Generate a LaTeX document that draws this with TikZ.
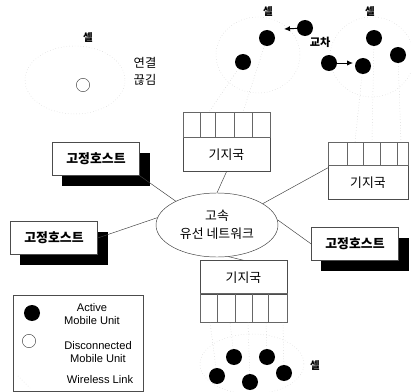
\documentclass[tikz,border=0pt]{standalone}
\usepackage{fontspec}
\setmainfont{Liberation Sans}
\newfontfamily\kr{Noto Sans CJK KR}
\usetikzlibrary{arrows.meta}
\usetikzlibrary{shapes.geometric}
\usetikzlibrary{shadows}

\tikzset{host/.style = {draw=black!70, fill=white, inner sep=0pt,
                        minimum width=2.61cm, minimum height=0.99cm,
                        font=\kr\bfseries\fontsize{11}{13}\selectfont,
                        drop shadow={shadow xshift=0.3cm, shadow yshift=-0.3cm,
                                     fill=black, opacity=1}}}
\tikzset{station/.style = {draw=black!70, inner sep=0pt, minimum height=1.02cm,
                           font=\kr\fontsize{11}{13}\selectfont}}
\tikzset{slots/.style = {draw=black!60}}
\tikzset{active/.style = {circle, fill=black, minimum size=0.48cm, inner sep=0pt}}
\tikzset{idle/.style = {circle, draw=black!70, minimum size=0.4cm, inner sep=0pt}}
\tikzset{link/.style = {black!25, dotted}}
\tikzset{cellline/.style = {black!20, dotted}}
\tikzset{wire/.style = {black!75, thin}}
\tikzset{move/.style = {-{Latex[length=1.8mm,width=1.6mm]}, thick}}
\tikzset{celllabel/.style = {font=\kr\bfseries\fontsize{9}{10}\selectfont}}
\tikzset{legendtext/.style = {font=\fontsize{9.5}{11.5}\selectfont, align=center}}

\begin{document}
\begin{tikzpicture}[x=0.03cm, y=-0.03cm]
	\useasboundingbox (0,0) rectangle (411,392);

	% cells
	\draw[cellline] (75,80) ellipse (50 and 34);
	\draw[cellline] (258,55) ellipse (42 and 38);
	\draw[cellline] (372,57) ellipse (42 and 40);
	\draw[cellline] (252,364) ellipse (52 and 30);
	\node[celllabel] (c1) at (88,38) {셀};
	\node[celllabel] (c2) at (268,12) {셀};
	\node[celllabel] (c3) at (370,12) {셀};
	\node[celllabel] (c4) at (315,366) {셀};

	% wired network and fixed hosts
	\node[ellipse, draw=black!75, inner sep=0pt, minimum width=3.66cm,
	      minimum height=1.92cm, align=center, font=\kr\fontsize{11}{15}\selectfont]
		(net) at (217,225) {고속\\유선 네트워크};
	\node[host] (h1) at (96,159) {고정호스트};
	\node[host] (h2) at (54,238) {고정호스트};
	\node[host] (h3) at (355,244) {고정호스트};

	% base stations
	\node[station, minimum width=2.61cm] (bs1) at (226.5,154.5) {기지국};
	\draw[slots] (183,112) rectangle (270,137);
	\foreach \x in {200,215,234,252}
		\draw[slots] (\x,112) -- (\x,137);
	\node[station, minimum width=2.4cm] (bs2) at (368,182.5) {기지국};
	\draw[slots] (328,142) rectangle (408,165);
	\foreach \x in {347,363,380,397}
		\draw[slots] (\x,142) -- (\x,165);
	\node[station, minimum width=2.61cm] (bs3) at (243.5,277.5) {기지국};
	\draw[slots] (200,293) rectangle (287,322);
	\foreach \x in {217,235,252,268}
		\draw[slots] (\x,293) -- (\x,322);

	\draw[wire] (h1.south east) -- (net.150);
	\draw[wire] (h2.east) -- (net.173);
	\draw[wire] (net.5) -- (h3.west);
	\draw[wire] (bs1.south) -- (net.north);
	\draw[wire] (net.25) -- (bs2.160);
	\draw[wire] (net.-70) -- (bs3.north);

	% mobile units
	\node[idle] (d1) at (83,85) {};
	\node[align=center, font=\kr\fontsize{10.5}{14.5}\selectfont] (off) at (145,71) {연결\\끊김};
	\node[active] (a1) at (267,38) {};
	\node[active] (a2) at (243,62) {};
	\node[active] (a3) at (305,28) {};
	\node[active] (a4) at (329,63) {};
	\node[active] (a5) at (363,66) {};
	\node[active] (a6) at (374,38) {};
	\node[active] (a7) at (398,55) {};
	\node[active] (b1) at (234,357) {};
	\node[active] (b2) at (267,357) {};
	\node[active] (b3) at (217,376) {};
	\node[active] (b4) at (250,382) {};
	\node[active] (b5) at (284,373) {};

	% handoff
	\coordinate (m1) at (284,29);
	\coordinate (m2) at (353,63);
	\draw[move] (a3) -- (m1);
	\draw[move] (a4) -- (m2);
	\node[celllabel, font=\kr\bfseries\fontsize{9.5}{10}\selectfont] (hand) at (320,42) {교차};

	% wireless links
	\draw[link] (a1) -- (243,112);
	\draw[link] (a2) -- (209,112);
	\draw[link] (a5) -- (355,142);
	\draw[link] (a6) -- (372,142);
	\draw[link] (a7) -- (401,142);
	\draw[link] (b1) -- (230,322);
	\draw[link] (b2) -- (266,322);
	\draw[link] (b3) -- (210,322);
	\draw[link] (b4) -- (248,322);
	\draw[link] (b5) -- (283,322);

	% legend
	\draw[black!70] (13,295) rectangle (143,391);
	\node[active] (la) at (32,313) {};
	\node[legendtext] (lta) at (92,314) {Active\\Mobile Unit};
	\node[idle] (ld) at (29,341) {};
	\node[legendtext] (ltd) at (98,352) {Disconnected\\Mobile Unit};
	\draw[link] (18,376) -- (30,388);
	\node[legendtext] (ltl) at (100,380) {Wireless Link};
\end{tikzpicture}
\end{document}
